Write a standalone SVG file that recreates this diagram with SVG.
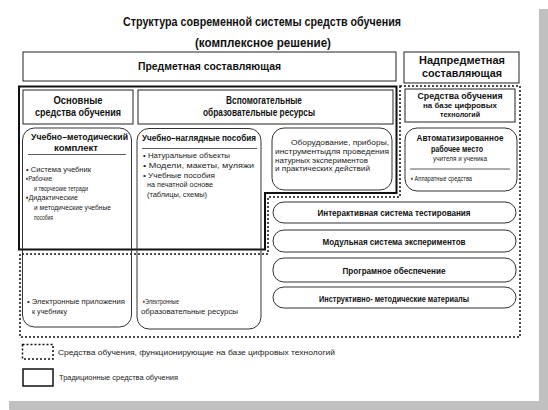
<svg xmlns="http://www.w3.org/2000/svg" width="548" height="410" viewBox="0 0 548 410">
<style>
text{font-family:"Liberation Sans","DejaVu Sans",sans-serif;fill:#111}
.b{font-weight:bold}
.t{font-size:13px}
.h{font-size:10.5px}
.s{font-size:9px}
.r{font-size:8px;fill:#222}
.m{text-anchor:middle}
.box{fill:#fff;stroke:#222;stroke-width:1}
.rb{fill:none;stroke:#333;stroke-width:1}
.solid{fill:none;stroke:#111;stroke-width:2}
.dot{fill:none;stroke:#111;stroke-width:1.5;stroke-dasharray:2 2}
.sep{stroke:#333;stroke-width:0.8}
</style>
<rect x="0" y="0" width="548" height="410" fill="#fff"/>
<rect x="539" y="9" width="9" height="401" fill="#c0c0c0"/>
<rect x="9" y="401" width="539" height="9" fill="#c0c0c0"/>

<g id="title">
<text class="b t m" x="262" y="26" textLength="278" lengthAdjust="spacingAndGlyphs">Структура современной системы средств обучения</text>
<text class="b t m" x="263" y="47" textLength="136" lengthAdjust="spacingAndGlyphs">(комплексное решение)</text>
</g>

<g id="connectors">
<path class="solid" d="M19,86.5 H396.5 V193 H265 V249.5 H19 Z"/>
<path class="dot" d="M400,86 H520 V337 H20 V254 H268 V197 H400 Z"/>
</g>

<g id="predmet">
<rect class="box" x="23" y="52" width="373" height="29"/>
<text class="b h m" x="209.5" y="70" textLength="143" lengthAdjust="spacingAndGlyphs">Предметная составляющая</text>
</g>
<g id="nadpredmet">
<rect class="box" x="404" y="52" width="115" height="31"/>
<text class="b h m" x="462" y="64" textLength="86" lengthAdjust="spacingAndGlyphs">Надпредметная</text>
<text class="b h m" x="462" y="77" textLength="80" lengthAdjust="spacingAndGlyphs">составляющая</text>
</g>

<g id="osnovnye">
<rect class="box" x="23" y="90" width="110" height="34"/>
<text class="b h m" x="78" y="104" textLength="49" lengthAdjust="spacingAndGlyphs">Основные</text>
<text class="b h m" x="78" y="116" textLength="86" lengthAdjust="spacingAndGlyphs">средства обучения</text>
</g>
<g id="vspomog">
<rect class="box" x="138" y="90" width="255" height="34"/>
<text class="b h m" x="264" y="104" textLength="76" lengthAdjust="spacingAndGlyphs">Вспомогательные</text>
<text class="b h m" x="259" y="116" textLength="112" lengthAdjust="spacingAndGlyphs">образовательные ресурсы</text>
</g>
<g id="cifrovye">
<rect class="box" x="405" y="89" width="110" height="33"/>
<text class="b m" x="460" y="99" style="font-size:9px" textLength="85" lengthAdjust="spacingAndGlyphs">Средства обучения</text>
<text class="b m" x="460" y="108" style="font-size:7.8px" textLength="74" lengthAdjust="spacingAndGlyphs">на базе цифровых</text>
<text class="b m" x="460" y="116.5" style="font-size:7.8px" textLength="40" lengthAdjust="spacingAndGlyphs">технологий</text>
</g>

<g id="umk">
<rect class="rb" x="22.5" y="128" width="109" height="199" rx="12"/>
<text class="b s m" x="79.5" y="140" textLength="97" lengthAdjust="spacingAndGlyphs">Учебно–методический</text>
<text class="b s m" x="76" y="151" textLength="44" lengthAdjust="spacingAndGlyphs">комплект</text>
<line class="sep" x1="28" y1="154.5" x2="126" y2="154.5"/>
<text class="r" x="26" y="172" textLength="65" lengthAdjust="spacingAndGlyphs">• Система учебник</text>
<text class="r" x="26" y="181" textLength="26" lengthAdjust="spacingAndGlyphs">▪Рабочие</text>
<text class="r" x="34" y="191" textLength="54" lengthAdjust="spacingAndGlyphs">и творческие тетради</text>
<text class="r" x="26" y="200" textLength="52" lengthAdjust="spacingAndGlyphs">▪Дидактические</text>
<text class="r" x="34" y="210" textLength="77" lengthAdjust="spacingAndGlyphs">и методические учебные</text>
<text class="r" x="34" y="220" textLength="19" lengthAdjust="spacingAndGlyphs">пособия</text>
<text class="r" x="27" y="304" textLength="98" lengthAdjust="spacingAndGlyphs">• Электронные приложения</text>
<text class="r" x="32" y="314" textLength="35" lengthAdjust="spacingAndGlyphs">к учебнику</text>
</g>

<g id="naglyadnye">
<rect class="rb" x="137" y="128.5" width="124" height="200.5" rx="12"/>
<text class="b s m" x="199" y="141" textLength="114" lengthAdjust="spacingAndGlyphs">Учебно–наглядные пособия</text>
<line class="sep" x1="142" y1="148.5" x2="257" y2="148.5"/>
<text class="r" x="143" y="158" textLength="87" lengthAdjust="spacingAndGlyphs">• Натуральные объекты</text>
<text class="r" x="143" y="168" textLength="111" lengthAdjust="spacingAndGlyphs">• Модели, макеты, муляжи</text>
<text class="r" x="143" y="177.5" textLength="72" lengthAdjust="spacingAndGlyphs">• Учебные пособия</text>
<text class="r" x="147" y="187" textLength="66" lengthAdjust="spacingAndGlyphs">на печатной основе</text>
<text class="r" x="147" y="197" textLength="60" lengthAdjust="spacingAndGlyphs">(таблицы, схемы)</text>
<text class="r" x="143" y="304" textLength="36" lengthAdjust="spacingAndGlyphs">▪Электронные</text>
<text class="r" x="141" y="314" textLength="97" lengthAdjust="spacingAndGlyphs">образовательные ресурсы</text>
</g>

<g id="oborudovanie">
<rect class="rb" x="272" y="128" width="120" height="62" rx="12"/>
<text class="r" x="291" y="144.5" textLength="98" lengthAdjust="spacingAndGlyphs">Оборудование, приборы,</text>
<text class="r" x="275" y="153.5" textLength="114" lengthAdjust="spacingAndGlyphs">инструментыдля проведения</text>
<text class="r" x="275" y="162.5" textLength="93" lengthAdjust="spacingAndGlyphs">натурных экспериментов</text>
<text class="r" x="275" y="171" textLength="95" lengthAdjust="spacingAndGlyphs">и практических действий</text>
</g>

<g id="arm">
<rect class="rb" x="405" y="128" width="112" height="63" rx="12"/>
<text class="b s m" x="460" y="141" style="font-size:9.5px" textLength="87" lengthAdjust="spacingAndGlyphs">Автоматизированное</text>
<text class="b s m" x="457" y="151.5" style="font-size:9.5px" textLength="52" lengthAdjust="spacingAndGlyphs">рабочее место</text>
<text class="r m" x="460" y="161" textLength="54" lengthAdjust="spacingAndGlyphs">учителя и ученика</text>
<line class="sep" x1="410" y1="169" x2="510" y2="169"/>
<text class="r" x="411" y="181" textLength="61" lengthAdjust="spacingAndGlyphs">▪ Аппаратные средства</text>
</g>

<g id="testirovanie">
<rect class="rb" x="273" y="202" width="243" height="21" rx="11"/>
<text class="b s m" x="394" y="216" textLength="153" lengthAdjust="spacingAndGlyphs">Интерактивная система тестирования</text>
</g>
<g id="eksperimenty">
<rect class="rb" x="273" y="230" width="243" height="22" rx="11"/>
<text class="b s m" x="394" y="245" textLength="143" lengthAdjust="spacingAndGlyphs">Модульная система экспериментов</text>
</g>
<g id="po">
<rect class="rb" x="273" y="258" width="243" height="24" rx="11"/>
<text class="b s m" x="394" y="274" textLength="103" lengthAdjust="spacingAndGlyphs">Програмное обеспечение</text>
</g>
<g id="materialy">
<rect class="rb" x="273" y="287" width="243" height="21" rx="11"/>
<text class="b s m" x="394" y="301.5" textLength="150" lengthAdjust="spacingAndGlyphs">Инструктивно- методические материалы</text>
</g>

<g id="legend-digital">
<rect class="dot" x="22.5" y="344.5" width="30.5" height="14.5"/>
<text class="r" x="58" y="355" textLength="277" lengthAdjust="spacingAndGlyphs">Средства обучения, функционирующие  на базе цифровых технологий</text>
</g>
<g id="legend-traditional">
<rect x="23" y="369" width="30" height="17" fill="none" stroke="#111" stroke-width="1.5"/>
<text class="r" x="59" y="380" textLength="119" lengthAdjust="spacingAndGlyphs">Традиционные средства обучения</text>
</g>
</svg>
